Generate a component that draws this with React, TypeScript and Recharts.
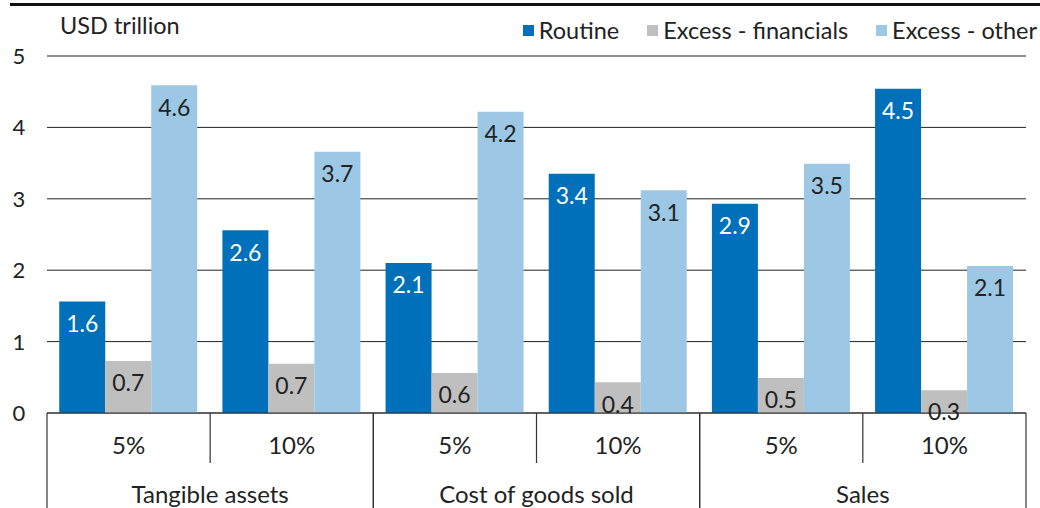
import React from "react";
import { BarChart, Bar, XAxis, YAxis, CartesianGrid, LabelList } from "recharts";

const groups = ["Tangible assets", "Tangible assets", "Cost of goods sold", "Cost of goods sold", "Sales", "Sales"];
const rates = ["5%", "10%", "5%", "10%", "5%", "10%"];
const routine = [1.56, 2.56, 2.1, 3.35, 2.93, 4.54];
const financials = [0.73, 0.69, 0.56, 0.43, 0.49, 0.32];
const other = [4.59, 3.66, 4.22, 3.12, 3.49, 2.06];
const yTicks = [0, 1, 2, 3, 4, 5];

const seriesNames = ["Routine", "Excess - financials", "Excess - other"];
const colors = ["#0070BA", "#BFBFBF", "#9DC8E5"];
const labelColors = ["#ffffff", "#222222", "#222222"];

const data = rates.map((r, i) => ({
  key: i,
  rate: r,
  group: groups[i],
  routine: routine[i],
  financials: financials[i],
  other: other[i],
}));

const FONT = "Lato, 'Noto Sans', sans-serif";
const W = 1040;
const H = 508;
const LEFT = 47;
const RIGHT_MARGIN = 14;
const BAND = (W - RIGHT_MARGIN - LEFT) / data.length;
const CAT_FS = 24;
const TICK_FS = 22;
const LABEL_FS = 23;
const LEG_FS = 23.5;

const XTick = (props: any) => {
  const { x, y, payload } = props;
  const i = payload.index;
  const leftEdge = x - BAND / 2;
  const rightEdge = x + BAND / 2;
  const els: any[] = [];
  els.push(
    <text key="r" x={x} y={y + 41} textAnchor="middle" fontSize={CAT_FS} fill="#222" fontFamily={FONT}>
      {payload.value}
    </text>
  );
  if (i % 2 === 0) {
    els.push(<line key="l" x1={leftEdge} x2={leftEdge} y1={y} y2={H} stroke="#333" strokeWidth={1.2} />);
    els.push(<line key="m" x1={rightEdge} x2={rightEdge} y1={y} y2={y + 50} stroke="#333" strokeWidth={1.2} />);
    els.push(
      <text key="g" x={rightEdge} y={y + 90} textAnchor="middle" fontSize={CAT_FS} fill="#222" fontFamily={FONT}>
        {data[i].group}
      </text>
    );
  } else {
    els.push(<line key="rr" x1={rightEdge} x2={rightEdge} y1={y} y2={H} stroke="#333" strokeWidth={1.2} />);
  }
  return <g>{els}</g>;
};

const YTick = (props: any) => {
  const { y, payload } = props;
  return (
    <text x={19} y={y + 8} textAnchor="middle" fontSize={TICK_FS} fill="#222" fontFamily={FONT}>
      {payload.value}
    </text>
  );
};

const fmt = (v: any) => Number(v).toFixed(1);

export default function App() {
  const keys = ["routine", "financials", "other"];
  return (
    <div style={{ position: "absolute", left: 0, top: 0, width: W, height: H, background: "#fff", fontFamily: FONT }}>
      <div style={{ position: "absolute", left: 10, top: 3, width: W - 10, height: 3, background: "#111" }} />
      <div style={{ position: "absolute", left: 60, top: 10, fontSize: LEG_FS, color: "#222", lineHeight: "30px" }}>
        USD trillion
      </div>
      <div
        style={{
          position: "absolute",
          right: 3,
          top: 15,
          display: "flex",
          alignItems: "center",
          fontSize: LEG_FS,
          lineHeight: "30px",
          color: "#222",
          whiteSpace: "nowrap",
        }}
      >
        {seriesNames.map((n, i) => (
          <div key={n} style={{ display: "flex", alignItems: "center", marginLeft: i === 0 ? 0 : 28 }}>
            <div style={{ width: 11, height: 11, background: colors[i], marginRight: 5 }} />
            <span>{n}</span>
          </div>
        ))}
      </div>
      <BarChart
        width={W}
        height={H}
        data={data}
        margin={{ top: 56, right: RIGHT_MARGIN, bottom: 0, left: 0 }}
        barCategoryGap="7.5%"
        barGap={0}
      >
        <CartesianGrid vertical={false} stroke="#222" strokeWidth={1} />
        <YAxis
          width={LEFT}
          domain={[0, 5]}
          ticks={yTicks}
          axisLine={false}
          tickLine={false}
          tick={<YTick />}
          interval={0}
        />
        <XAxis
          dataKey="rate"
          height={95}
          interval={0}
          tickLine={false}
          tickSize={0}
          tickMargin={0}
          axisLine={{ stroke: "#333", strokeWidth: 1.2 }}
          tick={<XTick />}
        />
        {keys.map((k, i) => (
          <Bar key={k} dataKey={k} name={seriesNames[i]} fill={colors[i]} isAnimationActive={false}>
            <LabelList
              dataKey={k}
              position="insideTop"
              offset={14}
              formatter={fmt}
              fill={labelColors[i]}
              fontSize={LABEL_FS}
              fontFamily={FONT}
            />
          </Bar>
        ))}
      </BarChart>
    </div>
  );
}
